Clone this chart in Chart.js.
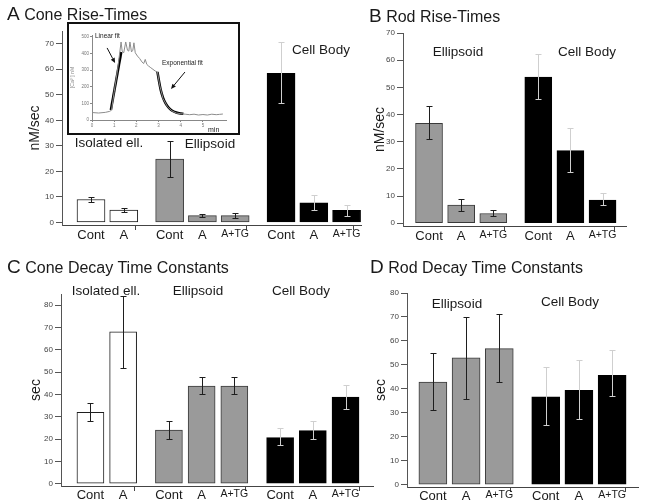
<!DOCTYPE html>
<html><head><meta charset="utf-8">
<script src="https://cdn.jsdelivr.net/npm/chart.js@4.4.1/dist/chart.umd.min.js"></script>
<style>
html,body{margin:0;padding:0;background:#fff;}
#fig{position:relative;width:645px;height:504px;overflow:hidden;background:#fff;font-family:'Liberation Sans',Arial,sans-serif;color:#1a1a1a;}
#fig canvas{position:absolute;}
.lbl{position:absolute;white-space:nowrap;line-height:1;}
.ttl{position:absolute;white-space:nowrap;line-height:1;font-size:16px;transform:translateY(-50%);}
.ttl span{font-size:19px;}
#inset{position:absolute;left:67px;top:22px;width:169px;height:109px;border:2px solid #111;background:#fff;}
</style></head><body><div id="fig"></div>
<script>
// ================= DATA =================
const conditions2 = ['Cont', 'A'];
const conditions3 = ['Cont', 'A', 'A+TG'];

// A: Cone rise-times (nM/sec)
const coneRiseGroups = ['Isolated ell.', 'Ellipsoid', 'Cell Body'];
const coneRiseIso = [9.0, 4.8];
const coneRiseIsoLow = [8.0, 3.9];
const coneRiseIsoHigh = [10.1, 5.8];
const coneRiseEll = [24.8, 2.7, 2.7];
const coneRiseEllLow = [17.8, 2.0, 1.8];
const coneRiseEllHigh = [31.8, 3.5, 3.8];
const coneRiseCell = [58.4, 7.7, 4.7];
const coneRiseCellLow = [46.6, 4.8, 2.7];
const coneRiseCellHigh = [70.8, 10.7, 7.0];
const yTicksConeRise = [0, 10, 20, 30, 40, 50, 60, 70];

// B: Rod rise-times (nM/sec)
const rodRiseGroups = ['Ellipsoid', 'Cell Body'];
const rodRiseEll = [36.8, 6.7, 3.6];
const rodRiseEllLow = [30.9, 4.5, 2.5];
const rodRiseEllHigh = [43.0, 8.9, 4.8];
const rodRiseCell = [53.8, 26.7, 8.5];
const rodRiseCellLow = [45.9, 19.0, 6.9];
const rodRiseCellHigh = [62.2, 35.2, 11.0];
const yTicksRodRise = [0, 10, 20, 30, 40, 50, 60, 70];

// C: Cone decay time constants (sec)
const coneDecayGroups = ['Isolated ell.', 'Ellipsoid', 'Cell Body'];
const coneDecayIso = [32.0, 68.0];
const coneDecayIsoLow = [28.0, 52.0];
const coneDecayIsoHigh = [36.2, 84.0];
const coneDecayEll = [24.0, 43.8, 43.8];
const coneDecayEllLow = [20.0, 40.0, 40.0];
const coneDecayEllHigh = [28.0, 48.0, 48.0];
const coneDecayCell = [20.7, 23.8, 38.8];
const coneDecayCellLow = [17.2, 20.0, 33.7];
const coneDecayCellHigh = [25.0, 28.0, 44.2];
const yTicksConeDecay = [0, 10, 20, 30, 40, 50, 60, 70, 80];

// D: Rod decay time constants (sec)
const rodDecayGroups = ['Ellipsoid', 'Cell Body'];
const rodDecayEll = [42.8, 52.9, 56.8];
const rodDecayEllLow = [31.1, 35.9, 42.8];
const rodDecayEllHigh = [55.1, 69.9, 71.2];
const rodDecayCell = [36.7, 39.4, 45.6];
const rodDecayCellLow = [25.0, 27.6, 37.0];
const rodDecayCellHigh = [49.0, 52.0, 56.2];
const yTicksRodDecay = [0, 10, 20, 30, 40, 50, 60, 70, 80];

// Inset: [Ca2+] trace (min, nM)
const insetTime = [0, 0.3, 0.6, 0.8, 0.88, 1.0, 1.15, 1.31, 1.36, 1.43, 1.52, 1.6, 1.66, 1.71, 1.78, 1.84, 1.89, 1.95, 2.05, 2.15, 2.25, 2.33, 2.4, 2.47, 2.55, 2.65, 2.75, 2.85, 2.95, 3.05, 3.2, 3.4, 3.6, 3.8, 4.0, 4.2, 4.4, 4.6, 4.8, 5.0, 5.2, 5.4, 5.6, 5.75, 5.9];
const insetCa = [45, 42, 46, 52, 60, 170, 300, 470, 415, 405, 470, 420, 415, 470, 410, 420, 465, 405, 385, 370, 350, 340, 365, 335, 325, 315, 305, 295, 290, 210, 130, 80, 55, 42, 38, 35, 32, 35, 30, 33, 30, 35, 32, 34, 36];
const linFitTime = [0.85, 1.32];
const linFitCa = [60, 410];
const expFitTime = [2.95, 3.02, 3.1, 3.2, 3.32, 3.45, 3.6, 3.8, 4.0, 4.12];
const expFitCa = [290, 235, 180, 135, 100, 75, 57, 45, 39, 37];
const insetXTicks = [0, 1, 2, 3, 4, 5];
const insetYTicks = [0, 100, 200, 300, 400, 500];

// ================= STYLE / LAYOUT =================
Chart.defaults.font.family = "'Liberation Sans', Arial, Helvetica, sans-serif";
const fig = document.getElementById('fig');
const GROUP_GAP = 0.4;
const barStyles = {
  white: { bg: '#ffffff', border: '#1e1e1e', err: '#1e1e1e' },
  gray:  { bg: '#9a9a9a', border: '#3a3a3a', err: '#1e1e1e' },
  black: { bg: '#000000', border: '#000000', err: '#cfcfcf' }
};
const key = v => Number(v).toFixed(3);

const errorBarPlugin = {
  id: 'errorBars',
  afterDatasetsDraw(chart) {
    const ctx = chart.ctx, yScale = chart.scales.y;
    chart.data.datasets.forEach((ds, di) => {
      if (!ds.errLow) return;
      const meta = chart.getDatasetMeta(di);
      ctx.save();
      ctx.strokeStyle = ds.errColor;
      ctx.lineWidth = 1;
      meta.data.forEach((bar, i) => {
        const x = Math.round(bar.x) + 0.5;
        const yl = Math.round(yScale.getPixelForValue(ds.errLow[i])) + 0.5;
        const yh = Math.round(yScale.getPixelForValue(ds.errHigh[i])) + 0.5;
        const cap = 3;
        ctx.beginPath();
        ctx.moveTo(x, yl); ctx.lineTo(x, yh);
        ctx.moveTo(x - cap, yl); ctx.lineTo(x + cap, yl);
        ctx.moveTo(x - cap, yh); ctx.lineTo(x + cap, yh);
        ctx.stroke();
      });
      ctx.restore();
    });
  }
};

function makeCanvas(parent, l, t, w, h) {
  const cv = document.createElement('canvas');
  cv.width = w; cv.height = h;
  cv.style.left = l + 'px'; cv.style.top = t + 'px';
  cv.style.width = w + 'px'; cv.style.height = h + 'px';
  parent.appendChild(cv);
  return cv;
}

function makeBarPanel(p) {
  const cv = makeCanvas(fig, p.box.l, p.box.t, p.box.w, p.box.h);
  let x = 0, prevLast = null;
  const datasets = [], labelAt = new Map(), tickVals = [p.xMin, p.xMax];
  p.groups.forEach((g, gi) => {
    if (gi > 0) { x += GROUP_GAP; tickVals.push((prevLast + x) / 2); }
    const pts = g.mean.map((v, i) => {
      const px = x + i;
      labelAt.set(key(px), g.labels[i]);
      tickVals.push(px);
      return { x: px, y: v };
    });
    x += g.mean.length; prevLast = x - 1;
    const st = barStyles[g.style];
    datasets.push({
      data: pts, backgroundColor: st.bg, borderColor: st.border, borderWidth: 1,
      borderSkipped: false, barThickness: p.barPx, grouped: false,
      errLow: g.low, errHigh: g.high, errColor: st.err
    });
  });
  tickVals.sort((a, b) => a - b);
  new Chart(cv, {
    type: 'bar',
    data: { datasets },
    options: {
      responsive: false, animation: false, events: [],
      layout: { padding: { left: 0, right: p.padR, top: p.padT, bottom: 0 } },
      plugins: { legend: { display: false }, tooltip: { enabled: false } },
      scales: {
        x: {
          type: 'linear', position: 'bottom', min: p.xMin, max: p.xMax, offset: false,
          afterBuildTicks: s => { s.ticks = tickVals.map(v => ({ value: v })); },
          afterFit: s => { s.height = p.xH; },
          grid: {
            drawOnChartArea: false, drawTicks: true, tickLength: 5, lineWidth: 1,
            color: c => (c.tick && labelAt.has(key(c.tick.value))) ? 'rgba(0,0,0,0)' : '#444'
          },
          border: { display: true, color: '#444', width: 1 },
          ticks: {
            autoSkip: false, maxRotation: 0, minRotation: 0, padding: p.xLabelPad, color: '#1a1a1a',
            callback: v => labelAt.get(key(v)) || '',
            font: c => ({ size: (c.tick && labelAt.get(key(c.tick.value)) === 'A+TG') ? 10.5 : 13 })
          }
        },
        y: {
          type: 'linear', min: p.yMin, max: p.yMax,
          afterBuildTicks: s => { s.ticks = p.yTicks.map(v => ({ value: v })); },
          afterFit: s => { s.width = p.yW; },
          grid: { drawOnChartArea: false, drawTicks: true, tickLength: 6, color: '#555' },
          border: { display: true, color: '#555', width: 1 },
          ticks: { padding: 2, color: '#444', font: { size: 8 } },
          title: { display: true, text: p.yTitle, color: '#1a1a1a', font: { size: 14 },
                   padding: { top: p.titlePad, bottom: 0 } }
        }
      }
    },
    plugins: [errorBarPlugin]
  });
}

function addText(txt, x, y, size, align) {
  const d = document.createElement('div');
  d.className = 'lbl';
  d.textContent = txt;
  d.style.fontSize = size + 'px';
  d.style.left = x + 'px'; d.style.top = y + 'px';
  d.style.transform = align === 'left' ? 'translate(0,-50%)' : 'translate(-50%,-50%)';
  fig.appendChild(d);
  return d;
}
function addTitle(letter, rest, x, y) {
  const d = document.createElement('div');
  d.className = 'ttl';
  d.innerHTML = '<span></span> ';
  d.firstChild.textContent = letter;
  d.appendChild(document.createTextNode(rest));
  d.style.left = x + 'px'; d.style.top = y + 'px';
  fig.appendChild(d);
}

// ---- Panel A ----
makeBarPanel({
  box: { l: 0, t: 0, w: 372, h: 250 }, padR: 11, padT: 31, yW: 62, xH: 25, xLabelPad: -2,
  yMin: -1, yMax: 75, yTicks: yTicksConeRise, xMin: -0.885, xMax: 8.24, barPx: 28,
  yTitle: 'nM/sec', titlePad: 26.6,
  groups: [
    { labels: conditions2, mean: coneRiseIso, low: coneRiseIsoLow, high: coneRiseIsoHigh, style: 'white' },
    { labels: conditions3, mean: coneRiseEll, low: coneRiseEllLow, high: coneRiseEllHigh, style: 'gray' },
    { labels: conditions3, mean: coneRiseCell, low: coneRiseCellLow, high: coneRiseCellHigh, style: 'black' }
  ]
});

// ---- Inset ----
const insetDiv = document.createElement('div');
insetDiv.id = 'inset';
fig.appendChild(insetDiv);
const insetCv = makeCanvas(insetDiv, 0, 0, 169, 109);
const zip = (xs, ys) => xs.map((v, i) => ({ x: v, y: ys[i] }));
const insetArrows = [
  { from: [0.68, 434], to: [1.04, 343] },
  { from: [4.19, 289], to: [3.56, 187] }
];
const arrowPlugin = {
  id: 'arrows',
  afterDatasetsDraw(chart) {
    const ctx = chart.ctx, xs = chart.scales.x, ys = chart.scales.y;
    ctx.save();
    ctx.strokeStyle = '#111'; ctx.fillStyle = '#111'; ctx.lineWidth = 1;
    insetArrows.forEach(a => {
      const x1 = xs.getPixelForValue(a.from[0]), y1 = ys.getPixelForValue(a.from[1]);
      const x2 = xs.getPixelForValue(a.to[0]), y2 = ys.getPixelForValue(a.to[1]);
      const ang = Math.atan2(y2 - y1, x2 - x1), L = 5, W = 2.2;
      ctx.beginPath(); ctx.moveTo(x1, y1);
      ctx.lineTo(x2 - L * Math.cos(ang), y2 - L * Math.sin(ang)); ctx.stroke();
      ctx.beginPath();
      ctx.moveTo(x2, y2);
      ctx.lineTo(x2 - L * Math.cos(ang) + W * Math.sin(ang), y2 - L * Math.sin(ang) - W * Math.cos(ang));
      ctx.lineTo(x2 - L * Math.cos(ang) - W * Math.sin(ang), y2 - L * Math.sin(ang) + W * Math.cos(ang));
      ctx.closePath(); ctx.fill();
    });
    ctx.restore();
  }
};
new Chart(insetCv, {
  type: 'scatter',
  data: { datasets: [
    { data: zip(insetTime, insetCa), showLine: true, borderColor: '#8c8c8c', borderWidth: 1, pointRadius: 0, tension: 0 },
    { data: zip(linFitTime, linFitCa), showLine: true, borderColor: '#000', borderWidth: 2.5, pointRadius: 0 },
    { data: zip(expFitTime, expFitCa), showLine: true, borderColor: '#000', borderWidth: 2.5, pointRadius: 0, cubicInterpolationMode: 'monotone' }
  ] },
  options: {
    responsive: false, animation: false, events: [],
    layout: { padding: { left: 0, right: 12, top: 11, bottom: 0 } },
    plugins: { legend: { display: false }, tooltip: { enabled: false } },
    scales: {
      x: { type: 'linear', min: 0, max: 6.04,
        afterBuildTicks: s => { s.ticks = insetXTicks.map(v => ({ value: v })); },
        afterFit: s => { s.height = 13; },
        grid: { drawOnChartArea: false, tickLength: 2, color: '#888' },
        border: { display: true, color: '#888' },
        ticks: { font: { size: 4.5 }, color: '#777', padding: 1, autoSkip: false, maxRotation: 0 } },
      y: { type: 'linear', min: 0, max: 512,
        afterBuildTicks: s => { s.ticks = insetYTicks.map(v => ({ value: v })); },
        afterFit: s => { s.width = 23; },
        grid: { drawOnChartArea: false, tickLength: 2, color: '#888' },
        border: { display: true, color: '#888' },
        ticks: { font: { size: 4.5 }, color: '#777', padding: 1 },
        title: { display: true, text: '[Ca²⁺] nM', font: { size: 5 }, color: '#888', padding: { top: 1, bottom: 0 } } }
    }
  },
  plugins: [arrowPlugin]
});

// ---- Panel B ----
makeBarPanel({
  box: { l: 372, t: 0, w: 273, h: 250 }, padR: 19, padT: 33, yW: 31, xH: 24, xLabelPad: -2,
  yMin: -1, yMax: 70, yTicks: yTicksRodRise, xMin: -0.81, xMax: 6.13, barPx: 27,
  yTitle: 'nM/sec', titlePad: 0,
  groups: [
    { labels: conditions3, mean: rodRiseEll, low: rodRiseEllLow, high: rodRiseEllHigh, style: 'gray' },
    { labels: conditions3, mean: rodRiseCell, low: rodRiseCellLow, high: rodRiseCellHigh, style: 'black' }
  ]
});

// ---- Panel C ----
makeBarPanel({
  box: { l: 0, t: 250, w: 380, h: 254 }, padR: 7, padT: 44, yW: 61, xH: 18, xLabelPad: -3,
  yMin: -1, yMax: 85, yTicks: yTicksConeDecay, xMin: -0.90, xMax: 8.64, barPx: 27,
  yTitle: 'sec', titlePad: 27.6,
  groups: [
    { labels: conditions2, mean: coneDecayIso, low: coneDecayIsoLow, high: coneDecayIsoHigh, style: 'white' },
    { labels: conditions3, mean: coneDecayEll, low: coneDecayEllLow, high: coneDecayEllHigh, style: 'gray' },
    { labels: conditions3, mean: coneDecayCell, low: coneDecayCellLow, high: coneDecayCellHigh, style: 'black' }
  ]
});

// ---- Panel D ----
makeBarPanel({
  box: { l: 370, t: 250, w: 275, h: 254 }, padR: 7, padT: 43, yW: 37, xH: 17, xLabelPad: -3,
  yMin: -1, yMax: 80, yTicks: yTicksRodDecay, xMin: -0.78, xMax: 6.18, barPx: 28,
  yTitle: 'sec', titlePad: 2.6,
  groups: [
    { labels: conditions3, mean: rodDecayEll, low: rodDecayEllLow, high: rodDecayEllHigh, style: 'gray' },
    { labels: conditions3, mean: rodDecayCell, low: rodDecayCellLow, high: rodDecayCellHigh, style: 'black' }
  ]
});

// ---- Titles & group labels ----
addTitle('A', 'Cone Rise-Times', 7, 13);
addTitle('B', 'Rod Rise-Times', 369, 15);
addTitle('C', 'Cone Decay Time Constants', 7, 266);
addTitle('D', 'Rod Decay Time Constants', 370, 266);

const GL = 13.5;
addText(coneRiseGroups[0], 109, 143, GL);
addText(coneRiseGroups[1], 210, 143.5, GL);
addText(coneRiseGroups[2], 321, 50, GL);
addText(rodRiseGroups[0], 458, 52, GL);
addText(rodRiseGroups[1], 587, 52, GL);
addText(coneDecayGroups[0], 106, 291, GL);
addText(coneDecayGroups[1], 198, 291, GL);
addText(coneDecayGroups[2], 301, 291, GL);
addText(rodDecayGroups[0], 457, 304, GL);
addText(rodDecayGroups[1], 570, 302, GL);

// inset annotations
addText('Linear fit', 95, 36, 6.5, 'left');
addText('Exponential fit', 162, 63, 6.5, 'left');
addText('min', 208, 129, 7, 'left');
</script></body></html>
